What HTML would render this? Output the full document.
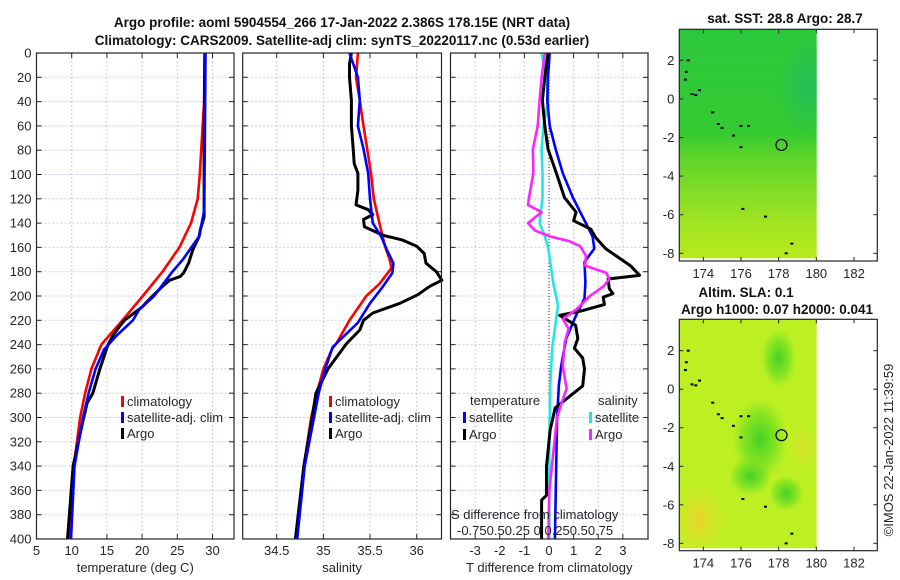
<!DOCTYPE html>
<html><head><meta charset="utf-8"><style>
html,body{margin:0;padding:0;background:#fff;width:900px;height:580px;overflow:hidden}
svg{display:block;font-family:"Liberation Sans","DejaVu Sans",sans-serif}
</style></head><body>
<svg id="fig" width="900" height="580" viewBox="0 0 900 580" xmlns="http://www.w3.org/2000/svg">
<defs>
<linearGradient id="sstg" x1="0" y1="0" x2="0" y2="1">
<stop offset="0" stop-color="#2cc83c"/><stop offset="0.45" stop-color="#34ca32"/><stop offset="0.55" stop-color="#5cd42a"/><stop offset="0.7" stop-color="#80dc26"/><stop offset="0.85" stop-color="#a2e422"/><stop offset="1" stop-color="#b8ea1c"/></linearGradient>
<radialGradient id="teal" cx="0.5" cy="0.5" r="0.5"><stop offset="0" stop-color="#1db56e" stop-opacity="0.6"/><stop offset="1" stop-color="#1db56e" stop-opacity="0"/></radialGradient>
<radialGradient id="gblob" cx="0.5" cy="0.5" r="0.5"><stop offset="0" stop-color="#3ccf26" stop-opacity="0.95"/><stop offset="0.6" stop-color="#6ede22" stop-opacity="0.7"/><stop offset="1" stop-color="#8ae622" stop-opacity="0"/></radialGradient>
<radialGradient id="oblob" cx="0.5" cy="0.5" r="0.5"><stop offset="0" stop-color="#f0d028" stop-opacity="0.95"/><stop offset="1" stop-color="#d8e830" stop-opacity="0"/></radialGradient>
<clipPath id="clip-sst"><rect x="679.3" y="29.3" width="137.4" height="229"/></clipPath>
<clipPath id="clip-sla"><rect x="679.3" y="319.3" width="137.4" height="229"/></clipPath>
</defs>
<g id="root"></g>
</svg>
<script>
// ---------- data ----------
const depthTicks = [0,20,40,60,80,100,120,140,160,180,200,220,240,260,280,300,320,340,360,380,400];
const tempTicks = [5,10,15,20,25,30];
const salTicks = [34.5,35,35.5,36];
const tdiffTicks = [-3,-2,-1,0,1,2,3];
const mapLonTicks = [174,176,178,180,182];
const mapLatTicks = [2,0,-2,-4,-6,-8];

const climTDepth = [0,40,80,100,120,140,160,180,200,220,240,260,280,300,340,400];
const climTVal   = [28.9,28.8,28.4,28.2,27.9,26.95,25.3,22.9,20.1,17.2,14.2,12.8,11.9,11.2,10.3,9.6];
const satTDepth  = [0,80,130,151,160,170,180,200,211,220,233,244,260,280,300,340,400];
const satTVal    = [29.0,28.9,28.8,28.1,27.0,25.8,24.3,21.7,19.6,18.7,16.3,14.6,13.4,12.4,11.6,10.4,9.9];
const argoTDepth = [0,80,135,145,151,162,173,181,184,187,192,200,209,220,225,233,241,260,280,288,300,340,400];
const argoTVal   = [28.9,28.8,28.8,28.3,28.1,27.2,26.6,25.9,25.4,23.9,22.9,21.5,20.0,17.5,16.8,15.8,15.1,14.0,13.0,12.2,11.7,10.2,9.4];

const climSDepth = [0,20,39,60,79,99,120,140,159,170,177,190,200,220,239,244,260,280,300,340,400];
const climSVal   = [35.37,35.35,35.39,35.43,35.47,35.51,35.54,35.60,35.66,35.71,35.73,35.60,35.46,35.28,35.14,35.09,35.00,34.93,34.87,34.79,34.71];
const satSDepth  = [0,20,39,60,79,99,120,140,151,162,173,181,192,206,222,242,260,280,300,340,400];
const satSVal    = [35.28,35.37,35.39,35.37,35.43,35.48,35.50,35.53,35.62,35.68,35.75,35.74,35.64,35.50,35.37,35.10,35.02,34.95,34.90,34.80,34.72];
const argoSDepth = [0,9,20,39,60,79,91,99,113,125,129,133,137,143,150,154,159,165,173,180,187,192,199,206,214,220,228,239,260,280,300,340,400];
const argoSVal   = [35.30,35.28,35.28,35.30,35.30,35.32,35.33,35.37,35.37,35.35,35.48,35.53,35.43,35.44,35.64,35.85,36.00,36.08,36.10,36.21,36.27,36.14,36.01,35.82,35.53,35.43,35.39,35.25,35.05,34.92,34.88,34.79,34.70];

const dTArgoDepth = [0,20,39,60,79,99,119,131,138,145,152,161,175,183,186,194,198,201,207,212,216,224,235,243,251,260,274,292,310,340,364,368,400];
const dTArgoVal   = [-0.04,-0.17,-0.27,-0.17,-0.04,0.30,0.63,1.10,1.00,1.70,1.90,2.30,3.30,3.68,2.40,2.45,2.60,2.20,2.25,1.37,0.43,1.08,1.17,1.03,1.37,1.44,1.37,0.25,0.05,-0.10,-0.10,-0.30,-0.30];
const dTSatDepth  = [0,20,39,60,79,99,119,140,151,161,172,189,202,216,235,257,273,300,400];
const dTSatVal    = [0.03,-0.04,-0.07,0.03,0.27,0.56,0.97,1.50,1.77,1.84,1.44,1.48,1.44,1.10,0.70,0.50,0.40,0.33,0.24];
const dSArgoDepth = [0,20,39,60,79,99,119,125,131,140,146,151,155,159,167,175,181,186,192,200,211,219,227,238,257,268,276,290,300,330,360,400];
const dSArgoVal   = [-0.045,-0.08,-0.10,-0.12,-0.17,-0.165,-0.21,-0.22,-0.08,-0.22,-0.15,0.01,0.21,0.32,0.38,0.37,0.59,0.62,0.56,0.42,0.28,0.14,0.20,0.16,0.14,0.16,0.18,0.12,0.08,0.04,0.0,-0.01];
const dSSatDepth  = [0,20,39,60,79,99,119,140,151,161,189,208,216,243,273,320,400];
const dSSatVal    = [-0.08,-0.03,-0.01,-0.06,-0.08,-0.07,-0.07,-0.10,-0.045,-0.01,0.04,0.09,0.075,0.03,0.01,0.0,0.0];

// ---------- helpers ----------
const NS = "http://www.w3.org/2000/svg";
const root = document.getElementById('root');
function mk(tag, attrs, parent){const e=document.createElementNS(NS,tag);for(const k in attrs)e.setAttribute(k,attrs[k]);(parent||root).appendChild(e);return e;}
function txt(s, attrs, parent){const e=mk('text',attrs,parent);e.textContent=s;return e;}

const Y0=53, Y1=539;
function yScale(d){return Y0+(d/400)*(Y1-Y0);}
function linScale(d0,d1,r0,r1){return v=>r0+(v-d0)/(d1-d0)*(r1-r0);}

function panel(name, x0, x1, xs, xTicks, xLabel, showY){
  const g=mk('g',{});
  
  
  depthTicks.forEach(d=>{ if(d>0&&d<400){const l=mk('line',{x1:x0,x2:x1,y1:yScale(d),y2:yScale(d),stroke:'#c4c8ec','stroke-width':1,'stroke-dasharray':'2,2'},g);}});
  xTicks.forEach(v=>{const x=xs(v);const l=mk('line',{x1:x,x2:x,y1:Y0,y2:Y1,stroke:'#e0c8c8','stroke-width':1,'stroke-dasharray':'2,2'},g);
    const t=txt(String(v),{x:x,y:Y1+16,'font-size':13,'text-anchor':'middle',fill:'#262626'},g);
    mk('line',{x1:x,x2:x,y1:Y1,y2:Y1-5,stroke:'#262626'},g);mk('line',{x1:x,x2:x,y1:Y0,y2:Y0+5,stroke:'#262626'},g);});
  depthTicks.forEach(d=>{const y=yScale(d);
    mk('line',{x1:x0,x2:x0+5,y1:y,y2:y,stroke:'#262626'},g);mk('line',{x1:x1,x2:x1-5,y1:y,y2:y,stroke:'#262626'},g);
    if(showY){const t=txt(String(d),{x:x0-5,y:y+4.5,'font-size':13,'text-anchor':'end',fill:'#262626'},g);}});
  const lab=txt(xLabel,{x:(x0+x1)/2,y:572,'font-size':13,'text-anchor':'middle',fill:'#262626'},g);
  
  return g;
}
function frame(x0,x1,g){const r=mk('rect',{x:x0,y:Y0,width:x1-x0,height:Y1-Y0,fill:'none',stroke:'#262626','stroke-width':1.2},g);}
function series(g, depths, vals, xs, color, name, w){
  const pts=depths.map((d,i)=>xs(vals[i]).toFixed(1)+','+yScale(d).toFixed(1)).join(' ');
  const p=mk('polyline',{points:pts,fill:'none',stroke:color,'stroke-width':w||2.6,'stroke-linejoin':'round'},g);
  
  
}
function legendEntry(g,x,y,color,label){
  const m=mk('rect',{x:x,y:y-9,width:3,height:11,fill:color},g);
  
  const t=txt(label,{x:x+6,y:y+1,'font-size':13,fill:'#262626'},g);
  
}

// ---------- panel 1 ----------
const p1x0=36.5,p1x1=234;
const xT=linScale(5,30,36.5,212.5);
const g1=panel('temperature-panel',p1x0,p1x1,xT,tempTicks,'temperature (deg C)',true);
series(g1,climTDepth,climTVal,xT,'#ff0000','climatology-temp-line');
series(g1,argoTDepth,argoTVal,xT,'#000000','argo-temp-line',3);
series(g1,satTDepth,satTVal,xT,'#0000ff','satellite-temp-line');
frame(p1x0,p1x1,g1);
legendEntry(g1,121,405,'#ff0000','climatology');
legendEntry(g1,121,421,'#0000ff','satellite-adj. clim');
legendEntry(g1,121,437,'#000000','Argo');

// ---------- panel 2 ----------
const p2x0=242.7,p2x1=441.5;
const xS=linScale(34.5,36,276.7,416.7);
const g2=panel('salinity-panel',p2x0,p2x1,xS,salTicks,'salinity',false);
series(g2,climSDepth,climSVal,xS,'#ff0000','climatology-salinity-line');
series(g2,argoSDepth,argoSVal,xS,'#000000','argo-salinity-line',3);
series(g2,satSDepth,satSVal,xS,'#0000ff','satellite-salinity-line');
frame(p2x0,p2x1,g2);
legendEntry(g2,329,405,'#ff0000','climatology');
legendEntry(g2,329,421,'#0000ff','satellite-adj. clim');
legendEntry(g2,329,437,'#000000','Argo');

// ---------- panel 3 ----------
const p3x0=450.5,p3x1=648;
const xD=linScale(-4,4,450.5,647.5);
const xSD=linScale(0,1,549.3,646);
const g3=panel('difference-panel',p3x0,p3x1,xD,tdiffTicks,'T difference from climatology',false);
const zl=mk('line',{x1:xD(0),x2:xD(0),y1:Y0,y2:Y1,stroke:'#333','stroke-width':1,'stroke-dasharray':'1,2'},g3);

series(g3,dSSatDepth,dSSatVal,xSD,'#22e6e6','salinity-satellite-diff-line');
series(g3,dTSatDepth,dTSatVal,xD,'#0000ff','temperature-satellite-diff-line');
series(g3,dTArgoDepth,dTArgoVal,xD,'#000000','temperature-argo-diff-line',3);
series(g3,dSArgoDepth,dSArgoVal,xSD,'#ff22ff','salinity-argo-diff-line');
frame(p3x0,p3x1,g3);
let t;
t=txt('temperature',{x:470,y:405,'font-size':13,fill:'#262626'},g3);
t=txt('salinity',{x:598,y:405,'font-size':13,fill:'#262626'},g3);
legendEntry(g3,463,421,'#0000ff','satellite');
legendEntry(g3,463,438,'#000000','Argo');
legendEntry(g3,589,421,'#22e6e6','satellite');
legendEntry(g3,589,438,'#ff22ff','Argo');
t=txt('S difference from climatology',{x:451,y:519,'font-size':13,fill:'#262626'},g3);
t=txt('-0.750.50.25 0 0.250.50.75',{x:457,y:535,'font-size':13,fill:'#262626'},g3);

// ---------- titles ----------
t=txt('Argo profile: aoml 5904554_266 17-Jan-2022 2.386S 178.15E (NRT data)',{x:342,y:27,'font-size':13.5,'font-weight':'bold','text-anchor':'middle',fill:'#111'});

t=txt('Climatology: CARS2009. Satellite-adj clim: synTS_20220117.nc (0.53d earlier)',{x:342,y:45,'font-size':13.5,'font-weight':'bold','text-anchor':'middle',fill:'#111'});


// ---------- maps ----------
const lonS=linScale(174,182,703.3,854);
function mapPanel(name, top, bottom, lat2y, latm8y, kind){
  const g=mk('g',{});
  
  
  const latS=linScale(2,-8,lat2y,latm8y);
  const x0=679.3,x1=877.3, dx1=lonS(180.05), dy1=latS(-8.3);
  const img=mk('g',{'clip-path':kind==='sst'?'url(#clip-sst)':'url(#clip-sla)'},g);
  if(kind==='sst'){
    mk('rect',{x:x0,y:top,width:dx1-x0,height:dy1-top,fill:'url(#sstg)'},img);
    mk('ellipse',{cx:lonS(179.6),cy:latS(0.6),rx:32,ry:48,fill:'url(#teal)'},img);
  } else {
    mk('rect',{x:x0,y:top,width:dx1-x0,height:dy1-top,fill:'#bcf022'},img);
    mk('ellipse',{cx:lonS(177),cy:latS(-2.6),rx:28,ry:42,fill:'url(#gblob)'},img);
    mk('ellipse',{cx:lonS(178.4),cy:latS(-5.4),rx:18,ry:18,fill:'url(#gblob)'},img);
    mk('ellipse',{cx:lonS(178),cy:latS(1.6),rx:18,ry:30,fill:'url(#gblob)'},img);
    mk('ellipse',{cx:lonS(176.5),cy:latS(-4.5),rx:22,ry:20,fill:'url(#gblob)'},img);
    mk('ellipse',{cx:lonS(173.8),cy:latS(-6.8),rx:30,ry:40,fill:'url(#oblob)'},img);
    mk('ellipse',{cx:lonS(179.3),cy:latS(-3),rx:16,ry:26,fill:'url(#oblob)','fill-opacity':0.6},img);
  }
  [[173.4,0.25],[173.6,0.2],[173.8,0.45],[174.5,-0.7],[174.8,-1.3],[175,-1.5],[175.6,-1.9],[176,-1.4],[176.4,-1.4],[176,-2.5],[176.1,-5.7],[177.3,-6.1],[178.7,-7.5],[178.4,-8],[173.1,1.4],[173.2,2],[173.05,1]].forEach(p=>{
    mk('rect',{x:lonS(p[0])-1.5,y:latS(p[1])-1,width:3,height:2,fill:'#000'},g);});
  const c=mk('ellipse',{cx:lonS(178.15),cy:latS(-2.386),rx:5.5,ry:5.5,fill:'none',stroke:'#000','stroke-width':1.2},g);
  
  mk('rect',{x:x0,y:top,width:x1-x0,height:bottom-top,fill:'none',stroke:'#262626','stroke-width':1.2},g);
  mapLonTicks.forEach(v=>{const x=lonS(v);mk('line',{x1:x,x2:x,y1:bottom,y2:bottom-4,stroke:'#262626'},g);mk('line',{x1:x,x2:x,y1:top,y2:top+4,stroke:'#262626'},g);
    const l=txt(String(v),{x:x,y:bottom+17,'font-size':13,'text-anchor':'middle',fill:'#262626'},g);});
  mapLatTicks.forEach(v=>{const y=latS(v);mk('line',{x1:x0,x2:x0+4,y1:y,y2:y,stroke:'#262626'},g);mk('line',{x1:x1,x2:x1-4,y1:y,y2:y,stroke:'#262626'},g);
    const l=txt(String(v),{x:x0-5,y:y+4.5,'font-size':13,'text-anchor':'end',fill:'#262626'},g);});
  return g;
}
mapPanel('sst-map',29.3,261,60.3,253.3,'sst');
mapPanel('sla-map',319.3,550.7,350.7,543.3,'sla');
t=txt('sat. SST: 28.8 Argo: 28.7',{x:785,y:23,'font-size':13.5,'font-weight':'bold','text-anchor':'middle',fill:'#111'});

t=txt('Altim. SLA: 0.1',{x:746,y:297,'font-size':13.5,'font-weight':'bold','text-anchor':'middle',fill:'#111'});

t=txt('Argo h1000: 0.07 h2000: 0.041',{x:777,y:314,'font-size':13.5,'font-weight':'bold','text-anchor':'middle',fill:'#111'});

t=txt('©IMOS 22-Jan-2022 11:39:59',{x:0,y:0,'font-size':13,'text-anchor':'middle',fill:'#262626',transform:'translate(893,450) rotate(-90)'});

</script>
</body></html>
